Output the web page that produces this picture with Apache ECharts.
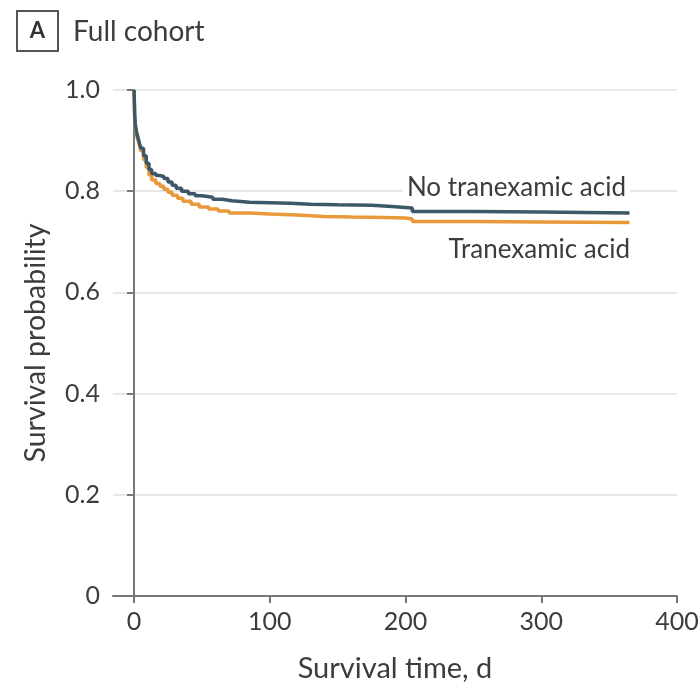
<!DOCTYPE html>
<html>
<head>
<meta charset="utf-8">
<script src="https://cdn.jsdelivr.net/npm/echarts@6/dist/echarts.min.js"></script>
<style>html,body{margin:0;padding:0;background:#fff}#c{width:700px;height:684px}</style>
</head>
<body>
<div id="c"></div>
<script>
const panelLetter = 'A';
const panelTitle = 'Full cohort';
const xAxisTitle = 'Survival time, d';
const yAxisTitle = 'Survival probability';
const xTickValues = [0, 100, 200, 300, 400];
const seriesNames = ['No tranexamic acid', 'Tranexamic acid'];

const noTxaTimes  = [0,0.5,1,2,3,4,5,7,9,11,13,16,19,22,25,28,31,35,40,45,50,58,65,72,85,100,115,130,150,175,190,205,250,300,365];
const noTxaSurv   = [1.0,0.95,0.93,0.915,0.905,0.895,0.885,0.87,0.855,0.843,0.835,0.831,0.829,0.825,0.818,0.812,0.806,0.800,0.795,0.791,0.788,0.784,0.781,0.778,0.777,0.776,0.774,0.773,0.772,0.770,0.767,0.760,0.759,0.757,0.757];
const txaTimes    = [0,0.5,1,2,3,4,5,7,9,11,13,16,19,22,25,28,32,36,42,48,55,62,70,85,100,120,140,160,185,200,205,250,300,365];
const txaSurv     = [1.0,0.945,0.925,0.91,0.9,0.89,0.88,0.862,0.847,0.832,0.822,0.815,0.810,0.804,0.798,0.792,0.786,0.780,0.774,0.769,0.765,0.761,0.757,0.755,0.753,0.750,0.749,0.748,0.747,0.745,0.740,0.739,0.738,0.737];

const FONT = 'Lato';
const TXT = '#3c3c3c';
const chart = echarts.init(document.getElementById('c'), null, {renderer: 'canvas'});
const pair = (t, s) => t.map((v, i) => [v, s[i]]);

chart.setOption({
  animation: false,
  backgroundColor: '#fff',
  grid: {left: 113, right: 23, top: 90, bottom: 88, containLabel: false, outerBoundsMode: 'none'},
  xAxis: {
    type: 'value', min: -15.5, max: 400,
    name: xAxisTitle, nameLocation: 'middle', nameGap: 58,
    nameTextStyle: {fontFamily: FONT, fontSize: 29, color: TXT},
    axisLine: {show: true, lineStyle: {color: '#777', width: 2}},
    axisTick: {show: true, customValues: xTickValues, length: 7, lineStyle: {color: '#777', width: 2}},
    axisLabel: {customValues: xTickValues, fontFamily: FONT, fontSize: 25, color: TXT, margin: 13},
    splitLine: {show: false}
  },
  yAxis: {
    type: 'value', min: 0, max: 1, interval: 0.2,
    name: yAxisTitle, nameLocation: 'middle', nameGap: 63, nameRotate: 90,
    nameTextStyle: {fontFamily: FONT, fontSize: 28.5, color: TXT},
    axisLine: {show: true, lineStyle: {color: '#777', width: 2}},
    axisTick: {show: true, length: 7, lineStyle: {color: '#777', width: 2}},
    axisLabel: {fontFamily: FONT, fontSize: 25, color: TXT, margin: 13,
      formatter: v => v === 0 ? '0' : v.toFixed(1)},
    splitLine: {show: true, lineStyle: {color: '#e0e0e0', width: 1.5}}
  },
  series: [
    {name: seriesNames[1], type: 'line', step: 'end', showSymbol: false, z: 2,
     data: pair(txaTimes, txaSurv), lineStyle: {color: '#e89a3a', width: 3.5}},
    {name: seriesNames[0], type: 'line', step: 'end', showSymbol: false, z: 3,
     data: pair(noTxaTimes, noTxaSurv), lineStyle: {color: '#3c5868', width: 3.5}}
  ],
  graphic: [
    {type: 'rect', shape: {x: 17, y: 11, width: 41, height: 40}, style: {fill: 'none', stroke: '#555', lineWidth: 2}},
    {type: 'text', x: 37.5, y: 31, style: {text: panelLetter, fontFamily: FONT, fontSize: 22, fontWeight: 'bold', fill: '#333', align: 'center', verticalAlign: 'middle'}},
    {type: 'text', x: 73, y: 32, style: {text: panelTitle, fontFamily: FONT, fontSize: 28, fill: TXT, align: 'left', verticalAlign: 'middle'}},
    {type: 'text', x: 630, y: 188, z: 10, style: {text: seriesNames[0], fontFamily: FONT, fontSize: 26, fill: TXT, align: 'right', verticalAlign: 'middle', backgroundColor: '#fff', padding: [0, 4, 0, 4]}},
    {type: 'text', x: 630, y: 250, z: 10, style: {text: seriesNames[1], fontFamily: FONT, fontSize: 26, fill: TXT, align: 'right', verticalAlign: 'middle'}}
  ]
});
</script>
</body>
</html>
